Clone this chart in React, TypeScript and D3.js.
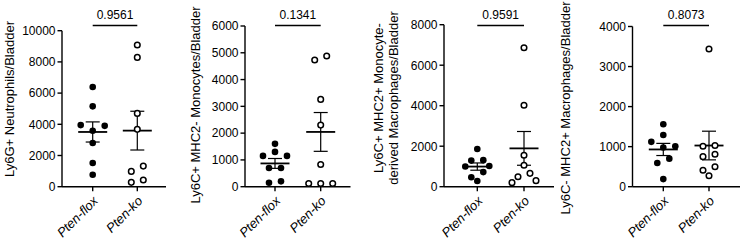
//@ts-nocheck
import React, {useEffect, useRef} from 'react';
import * as d3 from 'd3';

const groups = ['Pten-flox', 'Pten-ko'];

const neutrophilsFlox = [6390, 5150, 3950, 3900, 3590, 2800, 1520, 770];
const neutrophilsKo = [9080, 8290, 4700, 3675, 1320, 980, 430, 280];
const monocytesFlox = [1600, 1300, 1150, 1150, 700, 700, 200, 150];
const monocytesKo = [4880, 4730, 3260, 2300, 830, 120, 120, 120];
const moMacFlox = [1860, 1310, 1290, 1020, 1000, 720, 470, 280];
const moMacKo = [6860, 4020, 1550, 1060, 660, 490, 300, 200];
const macFlox = [1560, 1290, 1120, 1010, 980, 700, 590, 190];
const macKo = [3440, 1030, 1010, 810, 750, 500, 410, 275];

const yTitles = [
    ['Ly6G+ Neutrophils/Bladder'],
    ['Ly6C+ MHC2- Monocytes/Bladder'],
    ['Ly6C+ MHC2+ Monocyte-', 'derived Macrophages/Bladder'],
    ['Ly6C- MHC2+ Macrophages/Bladder']
];
const pValues = ['0.9561', '0.1341', '0.9591', '0.8073'];
const yMaxes = [10000, 6000, 8000, 4000];
const ySteps = [2000, 1000, 2000, 1000];

const seriesByPanel = [
    [neutrophilsFlox, neutrophilsKo],
    [monocytesFlox, monocytesKo],
    [moMacFlox, moMacKo],
    [macFlox, macKo]
];

// pixel layout of the four panels
const layout = [
    {axisX: 62, right: 166, cats: [92.7, 137.3], top: 30.7, titleX: 9, titleY: 99},
    {axisX: 245, right: 350.5, cats: [275, 320.7], top: 26, titleX: 195, titleY: 105},
    {axisX: 444, right: 554, cats: [477.3, 524], top: 24.7, titleX: 378, titleY: 98},
    {axisX: 632.5, right: 740, cats: [663.3, 709], top: 26.5, titleX: 565.5, titleY: 108}
];
const bottom = 186.7;
const font = '"Liberation Sans", Arial, Helvetica, sans-serif';

// GraphPad-like scatter: rows of close points are spread sideways
function swarm(values, y) {
    const order = values.map((v, i) => ({v, i, py: y(v)})).sort((a, b) => a.py - b.py);
    const placed = [];
    const out = new Array(values.length).fill(0);
    const minDist = 7;
    const shifts = [0, -6, 6, -12, 12, -18, 18];
    let k = 0;
    while (k < order.length) {
        const row = [order[k]];
        let j = k + 1;
        while (j < order.length && row.length < 3 && order[j].py - order[k].py < 5.8) {
            row.push(order[j]);
            j++;
        }
        const n = row.length;
        let bases, perms;
        if (n === 1) {
            bases = [[0]];
            perms = [[row[0]]];
        } else if (n === 2) {
            bases = [[-6, 6], [-12, 12]];
            perms = [[row[1], row[0]]];
        } else {
            bases = [[-12, 0, 12], [-18, 0, 18]];
            const gTop = row[1].py - row[0].py;
            const gBot = row[2].py - row[1].py;
            const a = [row[1], row[0], row[2]];
            const b = [row[0], row[2], row[1]];
            const c = [row[0], row[1], row[2]];
            perms = gTop > gBot ? [a, b, c] : [b, a, c];
        }
        let done = false;
        for (const s of shifts) {
            for (const base of bases) {
                for (const perm of perms) {
                    const ok = perm.every((p, m) => placed.every(q =>
                        Math.hypot(base[m] + s - q.dx, p.py - q.py) >= minDist));
                    if (ok) {
                        perm.forEach((p, m) => {
                            placed.push({dx: base[m] + s, py: p.py});
                            out[p.i] = base[m] + s;
                        });
                        done = true;
                        break;
                    }
                }
                if (done) break;
            }
            if (done) break;
        }
        if (!done) {
            row.forEach(p => { placed.push({dx: 0, py: p.py}); out[p.i] = 0; });
        }
        k = j;
    }
    return out;
}

const App: React.FC = () => {
    const svgRef = useRef<SVGSVGElement | null>(null);

    useEffect(() => {
        const svg = d3.select(svgRef.current);
        svg.selectAll('*').remove();

        seriesByPanel.forEach(function (series, p) {
            const L = layout[p];
            const g = svg.append('g');
            const y = d3.scaleLinear().domain([0, yMaxes[p]]).range([bottom, L.top]);
            const x = d3.scalePoint().domain(groups).range(L.cats);
            const ticks = d3.range(0, yMaxes[p] + 1, ySteps[p]);

            // y axis
            g.append('line')
                .attr('x1', L.axisX).attr('x2', L.axisX)
                .attr('y1', y(0)).attr('y2', y(yMaxes[p]))
                .attr('stroke', '#000').attr('stroke-width', 1.4);
            g.selectAll('line.ytick').data(ticks).enter().append('line')
                .attr('class', 'ytick')
                .attr('x1', L.axisX - 4.5).attr('x2', L.axisX)
                .attr('y1', d => y(d)).attr('y2', d => y(d))
                .attr('stroke', '#000').attr('stroke-width', 1.4);
            g.selectAll('text.ylab').data(ticks).enter().append('text')
                .attr('class', 'ylab')
                .attr('x', L.axisX - 6.5)
                .attr('y', d => y(d))
                .attr('dy', '0.36em')
                .attr('text-anchor', 'end')
                .attr('font-family', font)
                .attr('font-size', 12)
                .text(d => d);

            // x axis
            g.append('line')
                .attr('x1', L.axisX).attr('x2', L.right)
                .attr('y1', bottom).attr('y2', bottom)
                .attr('stroke', '#000').attr('stroke-width', 1.4);
            g.selectAll('line.xtick').data(groups).enter().append('line')
                .attr('class', 'xtick')
                .attr('x1', d => x(d)).attr('x2', d => x(d))
                .attr('y1', bottom).attr('y2', bottom + 4.5)
                .attr('stroke', '#000').attr('stroke-width', 1.4);
            g.selectAll('text.xlab').data(groups).enter().append('text')
                .attr('class', 'xlab')
                .attr('transform', d => 'translate(' + (x(d) + 6) + ',' + (bottom + 15) + ')rotate(-45)')
                .attr('text-anchor', 'end')
                .attr('font-family', font)
                .attr('font-style', 'italic')
                .attr('font-size', 13)
                .text(d => d);

            // y title
            yTitles[p].forEach(function (line, li) {
                g.append('text')
                    .attr('transform', 'translate(' + (L.titleX + li * 15) + ',' + L.titleY + ')rotate(-90)')
                    .attr('text-anchor', 'middle')
                    .attr('dy', '0.35em')
                    .attr('font-family', font)
                    .attr('font-size', 13)
                    .text(line);
            });

            // mean and SEM
            series.forEach(function (vals, gi) {
                const cx = x(groups[gi]);
                const m = d3.mean(vals);
                const sem = d3.deviation(vals) / Math.sqrt(vals.length);
                g.append('line')
                    .attr('x1', cx).attr('x2', cx)
                    .attr('y1', y(m - sem)).attr('y2', y(m + sem))
                    .attr('stroke', '#000').attr('stroke-width', 1.2);
                [m - sem, m + sem].forEach(function (v) {
                    g.append('line')
                        .attr('x1', cx - 7).attr('x2', cx + 7)
                        .attr('y1', y(v)).attr('y2', y(v))
                        .attr('stroke', '#000').attr('stroke-width', 1.2);
                });
                g.append('line')
                    .attr('x1', cx - 14.5).attr('x2', cx + 14.5)
                    .attr('y1', y(m)).attr('y2', y(m))
                    .attr('stroke', '#000').attr('stroke-width', 1.8);

                const offs = swarm(vals, y);
                g.selectAll('circle.g' + gi).data(vals).enter().append('circle')
                    .attr('class', 'g' + gi)
                    .attr('cx', (d, i) => cx + offs[i])
                    .attr('cy', d => y(d))
                    .attr('r', gi === 0 ? 3.3 : 2.8)
                    .attr('fill', gi === 0 ? '#000' : '#fff')
                    .attr('stroke', '#000')
                    .attr('stroke-width', gi === 0 ? 0 : 1.5);
            });

            // significance bracket
            g.append('line')
                .attr('x1', x(groups[0])).attr('x2', x(groups[1]))
                .attr('y1', 25.5).attr('y2', 25.5)
                .attr('stroke', '#000').attr('stroke-width', 1.4);
            g.append('text')
                .attr('x', (x(groups[0]) + x(groups[1])) / 2)
                .attr('y', 18.5)
                .attr('text-anchor', 'middle')
                .attr('font-family', font)
                .attr('font-size', 12)
                .text(pValues[p]);
        });
    }, []);

    return (
        <svg ref={svgRef} width={740} height={243}
             style={{position: 'absolute', left: 0, top: 0, background: '#fff'}}/>
    );
};

export default App;
